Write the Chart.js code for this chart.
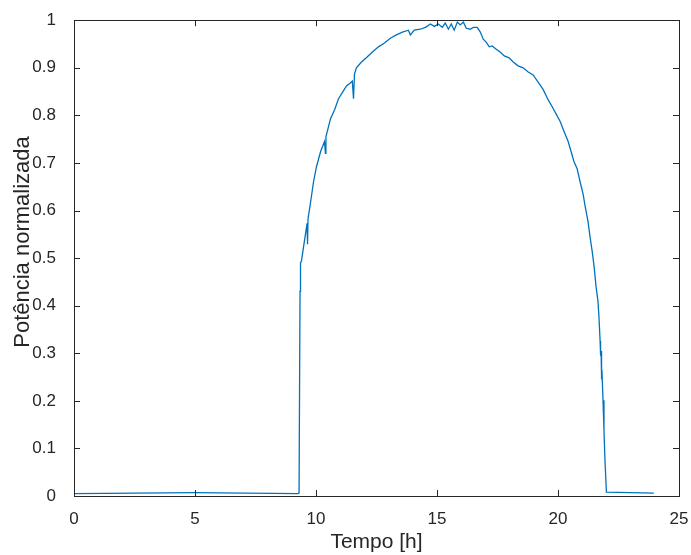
<!DOCTYPE html>
<html lang="pt">
<head>
  <meta charset="UTF-8">
  <title>Potência normalizada</title>
  <style>
    body { margin: 0; background: #fff; }
    #wrap { width: 691px; height: 555px; }
  </style>
</head>
<body>
  <div id="wrap"><canvas id="chart" width="691" height="555"></canvas></div>

  <script src="https://cdn.jsdelivr.net/npm/chart.js"></script>
  <script>
    // values (hours, normalized power)
    const hours = [
      0, 5, 9.25, 9.30, 9.34, 9.36, 9.40, 9.49, 9.57, 9.63, 9.65, 9.67, 9.78, 9.90,
      10.02, 10.19, 10.35, 10.39, 10.41, 10.60, 10.77, 10.93, 11.10, 11.26, 11.42, 11.50,
      11.55, 11.59, 11.67, 11.88, 12.08, 12.33, 12.58, 12.83, 13.07, 13.32, 13.57, 13.82,
      13.90, 14.06, 14.31, 14.52, 14.73, 14.89, 15.05, 15.22, 15.34, 15.47, 15.59, 15.71,
      15.84, 15.96, 16.09, 16.21, 16.37, 16.50, 16.66, 16.79, 16.91, 17.03, 17.16, 17.28,
      17.45, 17.61, 17.78, 17.98, 18.15, 18.35, 18.56, 18.77, 18.97, 19.18, 19.39, 19.59,
      19.76, 19.92, 20.09, 20.25, 20.42, 20.54, 20.66, 20.79, 20.91, 21.04, 21.12, 21.24,
      21.32, 21.41, 21.49, 21.57, 21.65, 21.69, 21.74, 21.76, 21.78, 21.80, 21.82, 21.86,
      21.90, 21.94, 21.96, 22.00, 23.96
    ];
    const power = [
      0.005, 0.007, 0.005, 0.006, 0.43, 0.49, 0.494, 0.525, 0.552, 0.573, 0.529, 0.582, 0.619, 0.661,
      0.692, 0.724, 0.745, 0.720, 0.755, 0.793, 0.812, 0.835, 0.849, 0.862, 0.868, 0.872,
      0.835, 0.887, 0.900, 0.912, 0.921, 0.933, 0.944, 0.952, 0.962, 0.969, 0.975, 0.979,
      0.969, 0.979, 0.981, 0.985, 0.992, 0.987, 0.992, 0.985, 0.994, 0.981, 0.992, 0.979,
      0.996, 0.990, 0.996, 0.983, 0.981, 0.985, 0.985, 0.975, 0.960, 0.954, 0.944, 0.946,
      0.939, 0.933, 0.925, 0.921, 0.912, 0.904, 0.900, 0.891, 0.885, 0.870, 0.854, 0.833,
      0.818, 0.803, 0.787, 0.766, 0.745, 0.724, 0.703, 0.688, 0.661, 0.634, 0.609, 0.577,
      0.546, 0.515, 0.483, 0.441, 0.410, 0.379, 0.326, 0.295, 0.305, 0.253, 0.257, 0.201,
      0.138, 0.075, 0.054, 0.008, 0.006
    ];
    const xTickLabels = ['0', '5', '10', '15', '20', '25'];
    const yTickLabels = ['0', '0.1', '0.2', '0.3', '0.4', '0.5', '0.6', '0.7', '0.8', '0.9', '1'];
    const xTitle = 'Tempo [h]';
    const yTitle = 'Potência normalizada';

    const points = hours.map((h, i) => ({ x: h, y: power[i] }));
    const ink = '#262626';

    // matlab style box with inward ticks, plus the y label
    const boxPlugin = {
      id: 'box',
      afterDraw(chart) {
        const { ctx, chartArea: a, scales } = chart;
        const len = 6;
        ctx.save();
        ctx.strokeStyle = ink;
        ctx.lineWidth = 1;
        ctx.beginPath();
        scales.x.ticks.forEach(t => {
          const px = Math.round(scales.x.getPixelForValue(t.value)) + 0.5;
          ctx.moveTo(px, a.bottom); ctx.lineTo(px, a.bottom - len);
          ctx.moveTo(px, a.top); ctx.lineTo(px, a.top + len);
        });
        scales.y.ticks.forEach(t => {
          const py = Math.round(scales.y.getPixelForValue(t.value)) + 0.5;
          ctx.moveTo(a.left, py); ctx.lineTo(a.left + len, py);
          ctx.moveTo(a.right, py); ctx.lineTo(a.right - len, py);
        });
        ctx.stroke();
        ctx.strokeRect(Math.round(a.left) + 0.5, Math.round(a.top) + 0.5,
          Math.round(a.right - a.left), Math.round(a.bottom - a.top));

        ctx.fillStyle = ink;
        ctx.font = '22px "Liberation Sans"';
        ctx.textAlign = 'center';
        ctx.textBaseline = 'middle';
        ctx.translate(23, 242);
        ctx.rotate(-Math.PI / 2);
        ctx.fillText(yTitle, 0, 0);
        ctx.restore();
      }
    };

    new Chart(document.getElementById('chart'), {
      type: 'line',
      data: {
        datasets: [{
          data: points,
          borderColor: '#0072BD',
          borderWidth: 1.3,
          pointRadius: 0,
          tension: 0,
          fill: false
        }]
      },
      options: {
        responsive: false,
        animation: false,
        layout: { padding: { top: 18, right: 12, left: 0, bottom: 0 } },
        plugins: { legend: { display: false }, tooltip: { enabled: false } },
        scales: {
          x: {
            type: 'linear',
            min: 0, max: 25,
            afterFit(s) { s.height = 59; s.paddingLeft = 0; s.paddingRight = 0; },
            grid: { display: false },
            border: { display: false },
            ticks: {
              stepSize: 5,
              padding: 5,
              color: ink,
              font: { family: 'Liberation Sans', size: 17 },
              maxRotation: 0,
              callback: (v, i) => xTickLabels[i]
            },
            title: {
              display: true,
              text: xTitle,
              color: ink,
              font: { family: 'Liberation Sans', size: 21 },
              padding: { top: 0, bottom: 0 }
            }
          },
          y: {
            min: 0, max: 1,
            afterFit(s) { s.width = 74; },
            grid: { display: false },
            border: { display: false },
            ticks: {
              stepSize: 0.1,
              padding: 10,
              color: ink,
              font: { family: 'Liberation Sans', size: 17 },
              callback: (v, i) => yTickLabels[i]
            }
          }
        }
      },
      plugins: [boxPlugin]
    });
  </script>
</body>
</html>
